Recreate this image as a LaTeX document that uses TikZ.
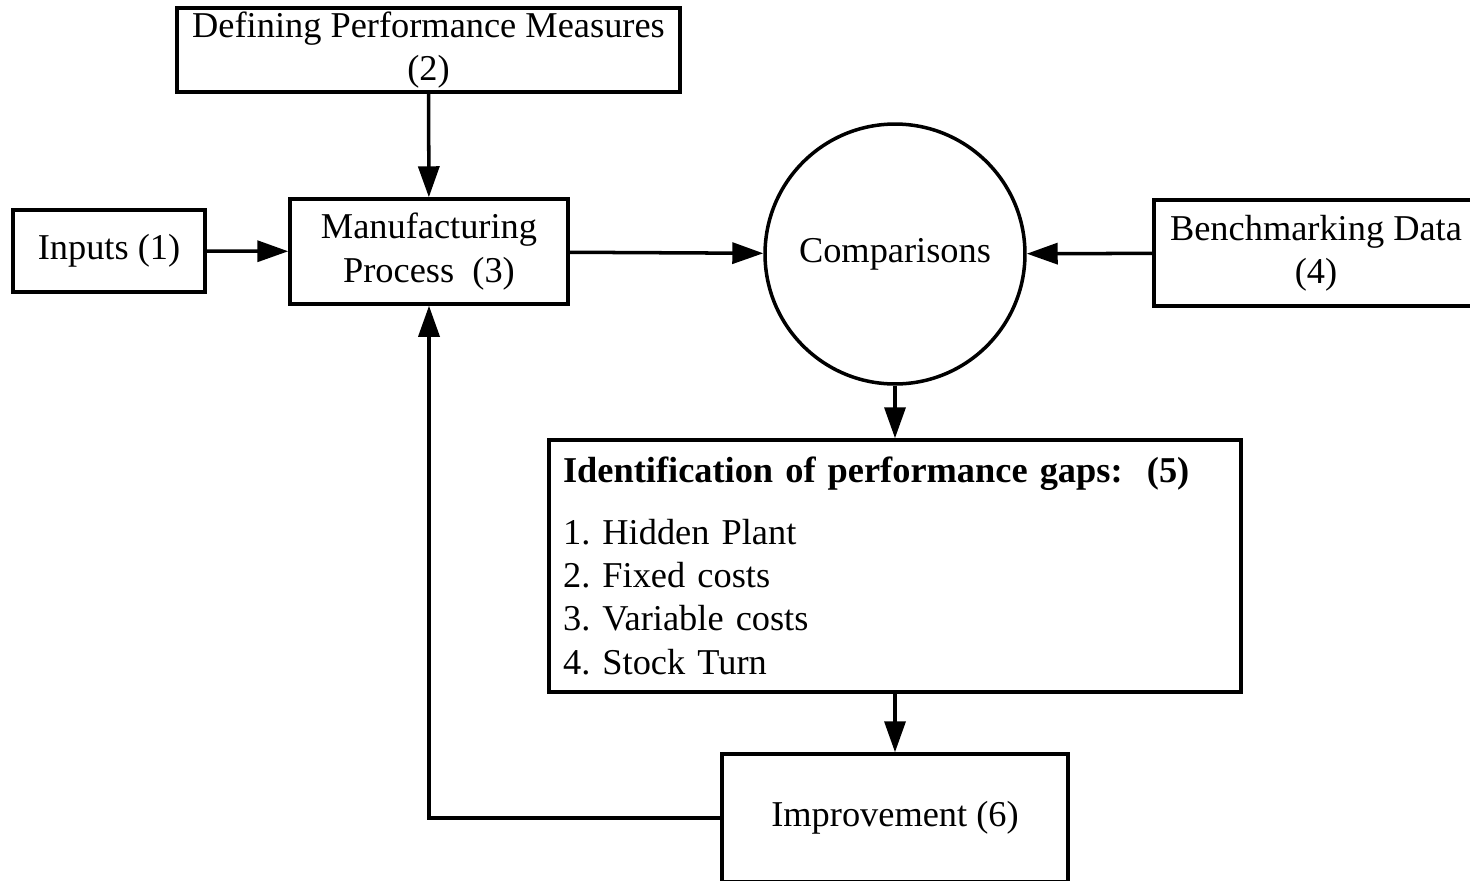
\documentclass[tikz,border=0pt]{standalone}
\usepackage{fontspec}
\setmainfont{Liberation Serif}
\usetikzlibrary{arrows.meta}
\frenchspacing
\begin{document}
\begin{tikzpicture}[x=0.02cm,y=-0.02cm,font=\fontsize{20.7pt}{24.7pt}\selectfont]
      \useasboundingbox (0,0) rectangle (1470,880);
      \begin{scope}[every node/.style={draw,line width=2pt,align=center,inner sep=0pt}]
        \node[minimum width=10.06cm,minimum height=1.68cm] (def) at (428.5,50) {Defining Performance Measures\\(2)};
        \node[minimum width=3.84cm,minimum height=1.64cm] (inp) at (109,251) {Inputs (1)};
        \node[minimum width=5.56cm,minimum height=2.1cm] (man) at (429,251.5) {Manufacturing\\Process\ \ (3)};
        \node[circle,minimum size=5.2cm] (cmp) at (895,254) {Comparisons};
        \node[minimum width=6.48cm,minimum height=2.12cm] (bench) at (1316,253) {Benchmarking Data\\(4)};
        \node[minimum height=5.04cm,text width=13.28cm,inner xsep=0.28cm,align=left] (gap) at (895,566)
          {\textbf{Identification of performance gaps:\ \ (5)}\\[0.36cm]
           1. Hidden Plant\\2. Fixed costs\\3. Variable costs\\4. Stock Turn};
        \node[minimum width=6.92cm,minimum height=2.56cm] (imp) at (895,818) {Improvement (6)};
      \end{scope}
      \begin{scope}[every edge/.style={draw=black,line width=2pt,-{Triangle[length=0.62cm,width=0.42cm]}}]
        \path (def) edge (man);
        \path (inp) edge (man);
        \path (man) edge (cmp);
        \path (bench) edge (cmp);
        \path (cmp) edge (gap);
        \path (gap) edge (imp);
        \path (imp.west) edge[to path={-| (\tikztotarget)}] (man.south);
      \end{scope}
    \end{tikzpicture}
\end{document}
